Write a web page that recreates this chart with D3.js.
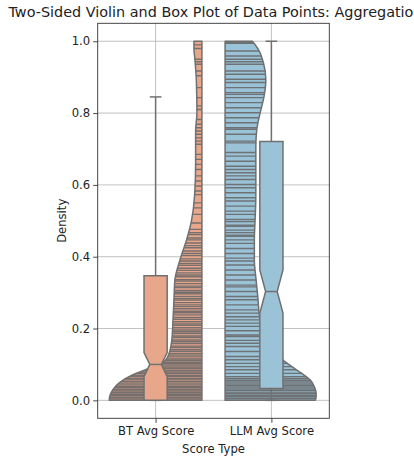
<!DOCTYPE html>
<html>
<head>
<meta charset="utf-8">
<script src="https://cdn.jsdelivr.net/npm/d3@7"></script>
<style>
  html, body { margin: 0; padding: 0; background: #fff; }
  svg { display: block; font-family: "DejaVu Sans", sans-serif; }
</style>
</head>
<body>
<svg id="chart" width="414" height="460"></svg>
<script>
// ---------------- data ----------------
const categories = ["BT Avg Score", "LLM Avg Score"];
const yTicks = [0.0, 0.2, 0.4, 0.6, 0.8, 1.0];

// individual data points (stick lines)
const btPoints = [
  1.0, 0.99, 0.98, 0.95, 0.943, 0.936, 0.917, 0.904, 0.871, 0.843, 0.82, 0.81,
  0.782, 0.769, 0.759, 0.75, 0.741, 0.731, 0.722, 0.713, 0.685, 0.671, 0.657,
  0.643, 0.625, 0.611, 0.597, 0.583, 0.573, 0.55, 0.536, 0.518, 0.494, 0.476, 0.467,
  0.462, 0.452, 0.447, 0.438, 0.431, 0.425, 0.416, 0.409, 0.403, 0.394, 0.388,
  0.381, 0.376, 0.368, 0.362, 0.355, 0.349, 0.344, 0.336, 0.332, 0.325, 0.318,
  0.314, 0.306, 0.301, 0.297, 0.289, 0.283, 0.279, 0.272, 0.266, 0.261, 0.255,
  0.248, 0.244, 0.238, 0.231, 0.226, 0.219, 0.213, 0.209, 0.202, 0.196, 0.191,
  0.186, 0.179, 0.175, 0.168, 0.163, 0.158, 0.151, 0.147, 0.141, 0.136, 0.13,
  0.126, 0.121, 0.115, 0.111, 0.106, 0.102, 0.098, 0.093, 0.089, 0.084, 0.079,
  0.075, 0.07, 0.066, 0.061, 0.057, 0.052, 0.048, 0.043, 0.039, 0.035, 0.03,
  0.026, 0.021, 0.017, 0.013, 0.008, 0.004, 0.0
];
const llmPoints = [
  1.0, 0.997, 0.994, 0.973, 0.959, 0.95, 0.943, 0.936, 0.917, 0.908, 0.894,
  0.885, 0.871, 0.857, 0.852, 0.843, 0.829, 0.815, 0.801, 0.787, 0.773, 0.759,
  0.755, 0.741, 0.722, 0.717, 0.69, 0.68, 0.666, 0.652, 0.643, 0.634, 0.625,
  0.615, 0.601, 0.592, 0.578, 0.564, 0.555, 0.541, 0.527, 0.518, 0.504, 0.498,
  0.488, 0.485, 0.474, 0.467, 0.46, 0.457, 0.447, 0.437, 0.423, 0.409, 0.396,
  0.388, 0.377, 0.363, 0.349, 0.335, 0.321, 0.316, 0.303, 0.289, 0.28, 0.266,
  0.252, 0.243, 0.233, 0.224, 0.215, 0.206, 0.194, 0.182, 0.178, 0.167, 0.159,
  0.15, 0.136, 0.122, 0.113, 0.103, 0.094, 0.085, 0.075, 0.066, 0.061, 0.056,
  0.051, 0.046, 0.042, 0.037, 0.032, 0.028, 0.023, 0.019, 0.014, 0.01, 0.005, 0.0
];

// violin density profiles (fraction of the maximum half-width)
const btDensityY = [0, 0.01, 0.03, 0.05, 0.07, 0.09, 0.11, 0.13, 0.17, 0.22, 0.28,
  0.335, 0.39, 0.45, 0.5, 0.57, 0.66, 0.75, 0.8, 0.89, 0.95, 0.98, 1.0];
const btDensityW = [1.0, 0.996, 0.961, 0.886, 0.756, 0.56, 0.40, 0.356, 0.324, 0.313,
  0.302, 0.292, 0.238, 0.162, 0.113, 0.079, 0.068, 0.068, 0.054, 0.06, 0.076, 0.086, 0.086];
const llmDensityY = [0, 0.01, 0.02, 0.038, 0.057, 0.075, 0.094, 0.112, 0.15, 0.19,
  0.243, 0.28, 0.335, 0.39, 0.447, 0.503, 0.57, 0.66, 0.707, 0.754, 0.8, 0.847,
  0.893, 0.94, 0.977, 1.0];
const llmDensityW = [0.972, 0.983, 0.983, 0.964, 0.918, 0.828, 0.72, 0.626, 0.486,
  0.41, 0.367, 0.356, 0.335, 0.316, 0.316, 0.324, 0.332, 0.332, 0.332, 0.342, 0.378,
  0.421, 0.44, 0.414, 0.36, 0.295];

// box statistics: [whiskerLow, q1, notchLow, median, notchHigh, q3, whiskerHigh]
const btBox = [0.0, 0.0, 0.066, 0.100, 0.133, 0.347, 0.845];
const llmBox = [0.0, 0.033, 0.243, 0.303, 0.363, 0.721, 1.0];

// ---------------- drawing ----------------
const fills = ["#E8A78B", "#9BC3D7"];
const edge = "#707070";

const svg = d3.select("#chart");
const pL = 97.7, pR = 329.3, pT = 23.3, pB = 418.3;
const x = d3.scaleLinear().domain([-0.5, 1.5]).range([pL, pR]);
const y = d3.scaleLinear().domain([-0.05, 1.05]).range([pB, pT]);

// grid
const grid = svg.append("g");
grid.selectAll("line.h").data(yTicks).join("line")
  .attr("x1", pL).attr("x2", pR)
  .attr("y1", d => y(d)).attr("y2", d => y(d))
  .attr("stroke", "#b0b0b0").attr("stroke-width", 0.9).attr("opacity", 0.85);
grid.selectAll("line.v").data([0, 1]).join("line")
  .attr("y1", pT).attr("y2", pB)
  .attr("x1", d => x(d)).attr("x2", d => x(d))
  .attr("stroke", "#b0b0b0").attr("stroke-width", 0.9).attr("opacity", 0.85);

const violins = [
  { pts: btPoints, dy: btDensityY, dw: btDensityW, flat: 0 + 0.4, dir: -1, fill: fills[0], id: "bt" },
  { pts: llmPoints, dy: llmDensityY, dw: llmDensityW, flat: 1 - 0.4, dir: 1, fill: fills[1], id: "llm" }
];
const defs = svg.append("defs");
violins.forEach(v => {
  const prof = v.dy.map((yy, i) => ({ v: yy, w: v.dw[i] }));
  const area = d3.area()
    .y(d => y(d.v))
    .x0(x(v.flat))
    .x1(d => x(v.flat + v.dir * 0.8 * d.w))
    .curve(d3.curveMonotoneY);
  const pathD = area(prof);
  defs.append("clipPath").attr("id", "clip-" + v.id)
    .append("path").attr("d", pathD);
  const g = svg.append("g");
  g.append("path").attr("d", pathD).attr("fill", v.fill).attr("stroke", "none");
  g.append("g").attr("clip-path", "url(#clip-" + v.id + ")")
    .selectAll("line").data(v.pts).join("line")
    .attr("x1", x(v.flat)).attr("x2", x(v.flat + v.dir * 0.8))
    .attr("y1", d => y(d)).attr("y2", d => y(d))
    .attr("stroke", "#6a6a6a").attr("stroke-width", 1.4).attr("opacity", 0.9);
  g.append("path").attr("d", pathD).attr("fill", "none")
    .attr("stroke", edge).attr("stroke-width", 1.5).attr("stroke-linejoin", "round");
});

// boxes
[btBox, llmBox].forEach((b, i) => {
  const [wl, q1, nl, med, nh, q3, wh] = b;
  const bw = 0.2, cw = 0.1;
  const L = x(i - bw / 2), R = x(i + bw / 2), C = x(i);
  const inset = (R - L) * 0.25;
  const g = svg.append("g");
  g.append("line").attr("x1", C).attr("x2", C).attr("y1", y(q3)).attr("y2", y(wh))
    .attr("stroke", edge).attr("stroke-width", 1.5);
  g.append("line").attr("x1", C).attr("x2", C).attr("y1", y(q1)).attr("y2", y(wl))
    .attr("stroke", edge).attr("stroke-width", 1.5);
  [wl, wh].forEach(w => {
    g.append("line").attr("x1", x(i - cw / 2)).attr("x2", x(i + cw / 2))
      .attr("y1", y(w)).attr("y2", y(w))
      .attr("stroke", edge).attr("stroke-width", 1.5);
  });
  const p = d3.path();
  p.moveTo(L, y(q3)); p.lineTo(R, y(q3)); p.lineTo(R, y(nh));
  p.lineTo(R - inset, y(med)); p.lineTo(R, y(nl)); p.lineTo(R, y(q1));
  p.lineTo(L, y(q1)); p.lineTo(L, y(nl)); p.lineTo(L + inset, y(med));
  p.lineTo(L, y(nh)); p.closePath();
  g.append("path").attr("d", p.toString()).attr("fill", fills[i])
    .attr("stroke", edge).attr("stroke-width", 1.5).attr("stroke-linejoin", "miter");
  g.append("line").attr("x1", L + inset).attr("x2", R - inset)
    .attr("y1", y(med)).attr("y2", y(med))
    .attr("stroke", edge).attr("stroke-width", 1.5);
});

// spines
svg.append("rect").attr("x", pL).attr("y", pT)
  .attr("width", pR - pL).attr("height", pB - pT)
  .attr("fill", "none").attr("stroke", "#333").attr("stroke-width", 0.9);

// axes
const yAxis = svg.append("g").attr("transform", `translate(${pL},0)`)
  .call(d3.axisLeft(y).tickValues(yTicks).tickFormat(d3.format(".1f")).tickSize(4.5).tickPadding(3));
const xAxis = svg.append("g").attr("transform", `translate(0,${pB})`)
  .call(d3.axisBottom(x).tickValues([0, 1]).tickFormat(i => categories[i]).tickSize(4.5).tickPadding(4));
[yAxis, xAxis].forEach(a => {
  a.select(".domain").remove();
  a.selectAll(".tick line").attr("stroke", "#333").attr("stroke-width", 0.9);
  a.selectAll(".tick text").attr("fill", "#222").style("font-size", "11.6px")
    .style("font-family", "DejaVu Sans");
});

// labels
svg.append("text").attr("x", (pL + pR) / 2).attr("y", 453)
  .attr("text-anchor", "middle").attr("fill", "#222")
  .style("font-size", "11.6px").text("Score Type");
svg.append("text")
  .attr("transform", `translate(65.5,${(pT + pB) / 2}) rotate(-90)`)
  .attr("text-anchor", "middle").attr("fill", "#222")
  .style("font-size", "11.6px").text("Density");
svg.append("text").attr("x", (pL + pR) / 2 + 2).attr("y", 17.3)
  .attr("text-anchor", "middle").attr("fill", "#222")
  .style("font-size", "14.4px")
  .text("Two-Sided Violin and Box Plot of Data Points: Aggregation");
</script>
</body>
</html>
